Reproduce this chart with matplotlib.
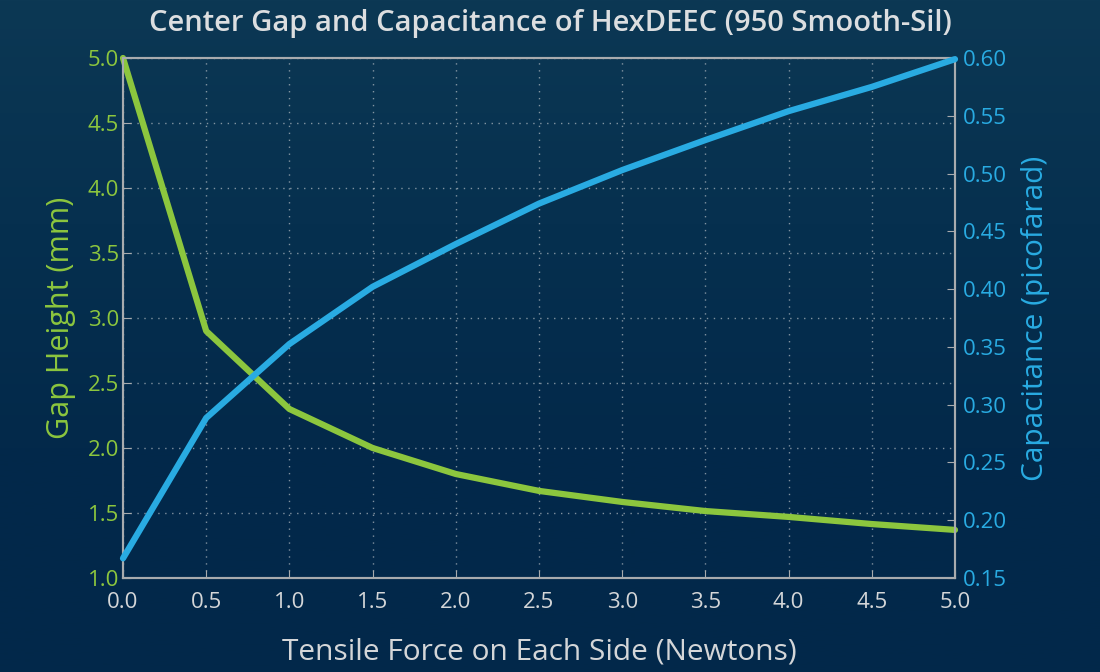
import numpy as np
import matplotlib
matplotlib.use("Agg")
import matplotlib.pyplot as plt

# data
force = [0.0, 0.5, 1.0, 1.5, 2.0, 2.5, 3.0, 3.5, 4.0, 4.5, 5.0]
gap_mm = [5.0, 2.9, 2.3, 2.0, 1.8, 1.67, 1.585, 1.515, 1.47, 1.415, 1.37]
cap_pf = [0.167, 0.2885, 0.3525, 0.402, 0.439, 0.474, 0.503, 0.529, 0.554, 0.575, 0.599]

green = "#8cc63e"
blue = "#29abe2"
light = "#d4d6d8"
spine = "#a8abae"

plt.rcParams['font.family'] = ['Open Sans', 'DejaVu Sans']

fig = plt.figure(figsize=(11, 6.72), dpi=100)

# dark ocean-like background
bg = fig.add_axes([0, 0, 1, 1], zorder=-10)
grad = np.linspace(0, 1, 256).reshape(-1, 1)
cmap = matplotlib.colors.LinearSegmentedColormap.from_list(
    "sea", ["#0c3854", "#06304f", "#03294a", "#02284a"])
bg.imshow(grad, aspect='auto', cmap=cmap, extent=[0, 1, 0, 1])
bg.axis('off')

ax = fig.add_axes([123 / 1100, 1 - 578 / 672, (955 - 123) / 1100, (578 - 58) / 672])
ax.patch.set_alpha(0)
ax2 = ax.twinx()

ax.plot(force, gap_mm, color=green, lw=4.5, solid_capstyle='round', zorder=3, clip_on=False)
ax2.plot(force, cap_pf, color=blue, lw=4.5, solid_capstyle='round', zorder=3, clip_on=False)

ax.set_xlim(0, 5)
ax.set_ylim(1.0, 5.0)
ax2.set_ylim(0.15, 0.60)
ax.set_xticks(np.arange(0, 5.01, 0.5))
ax.set_yticks(np.arange(1.0, 5.01, 0.5))
ax2.set_yticks(np.arange(0.15, 0.601, 0.05))
ax.xaxis.set_major_formatter(matplotlib.ticker.FormatStrFormatter('%.1f'))
ax.yaxis.set_major_formatter(matplotlib.ticker.FormatStrFormatter('%.1f'))
ax2.yaxis.set_major_formatter(matplotlib.ticker.FormatStrFormatter('%.2f'))

ax.grid(True, color=light, ls=(0, (1, 4)), lw=1, alpha=0.6)

for a in (ax, ax2):
    for s in a.spines.values():
        s.set_color(spine)
        s.set_linewidth(1.5)

ax.tick_params(axis='x', direction='in', length=6, color=spine, labelcolor=light,
               labelsize=16, pad=10)
ax.tick_params(axis='y', direction='in', length=6, color=spine, labelcolor=green,
               labelsize=16, pad=3)
ax2.tick_params(axis='y', direction='in', length=6, color=spine, labelcolor=blue,
                labelsize=16, pad=6)

ax.set_xlabel("Tensile Force on Each Side (Newtons)", color=light, fontsize=21.5, labelpad=18)
ax.set_ylabel("Gap Height (mm)", color=green, fontsize=22, labelpad=8)
ax2.set_ylabel("Capacitance (picofarad)", color=blue, fontsize=21.5, labelpad=10)

fig.text(0.5, 1 - 24 / 672, "Center Gap and Capacitance of HexDEEC (950 Smooth-Sil)",
         ha='center', va='center', color="#dcdee0", fontsize=21, fontweight='semibold')

fig.savefig("out.png", dpi=100)
